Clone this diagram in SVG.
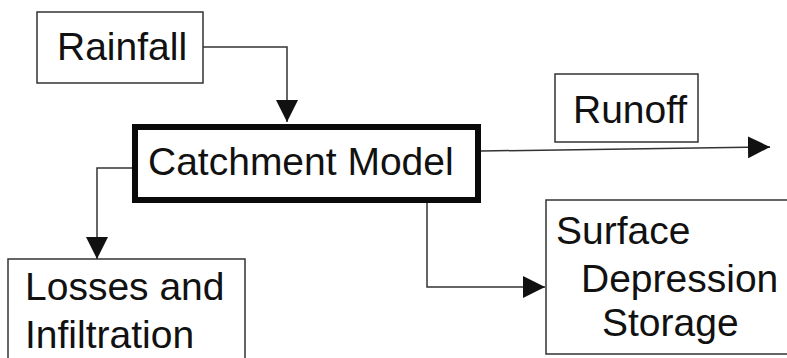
<svg xmlns="http://www.w3.org/2000/svg" width="787" height="358" viewBox="0 0 787 358">
  <defs>
    <marker id="arrow" markerUnits="userSpaceOnUse" markerWidth="22" markerHeight="22" viewBox="0 0 20 20" refX="20" refY="10" orient="auto">
      <path d="M0,0 L20,10 L0,20 Z" fill="#111"/>
    </marker>
  </defs>
  <style>
    .box { fill: #fff; stroke: #333; stroke-width: 1.5; }
    .main { fill: #fff; stroke: #0a0a0a; stroke-width: 6; }
    .lbl { font-family: "Liberation Sans", Arial, sans-serif; font-size: 39px; fill: #111; }
    .conn { fill: none; stroke: #333; stroke-width: 1.5; marker-end: url(#arrow); }
  </style>
  <rect width="787" height="358" fill="#fff"/>
  <g id="connectors">
    <path class="conn" d="M203,47 H287 V122"/>
    <path class="conn" d="M481,151 L770,147"/>
    <path class="conn" d="M132,168 H97 V259"/>
    <path class="conn" d="M427,202 V287 H545"/>
  </g>
  <g id="rainfall">
    <rect class="box" x="37" y="12" width="166" height="71"/>
    <text class="lbl" x="57" y="60">Rainfall</text>
  </g>
  <g id="catchment">
    <rect class="main" x="135" y="127" width="343" height="73"/>
    <text class="lbl" x="148" y="175" font-size="40">Catchment Model</text>
  </g>
  <g id="runoff">
    <rect class="box" x="555" y="74" width="143" height="68"/>
    <text class="lbl" x="573" y="123">Runoff</text>
  </g>
  <g id="losses">
    <rect class="box" x="8" y="259" width="237" height="110"/>
    <text class="lbl" x="25" y="300">Losses and</text>
    <text class="lbl" x="25" y="348">Infiltration</text>
  </g>
  <g id="storage">
    <rect class="box" x="546" y="200" width="260" height="154"/>
    <text class="lbl" x="556" y="244">Surface</text>
    <text class="lbl" x="581" y="292">Depression</text>
    <text class="lbl" x="602" y="336">Storage</text>
  </g>
</svg>
